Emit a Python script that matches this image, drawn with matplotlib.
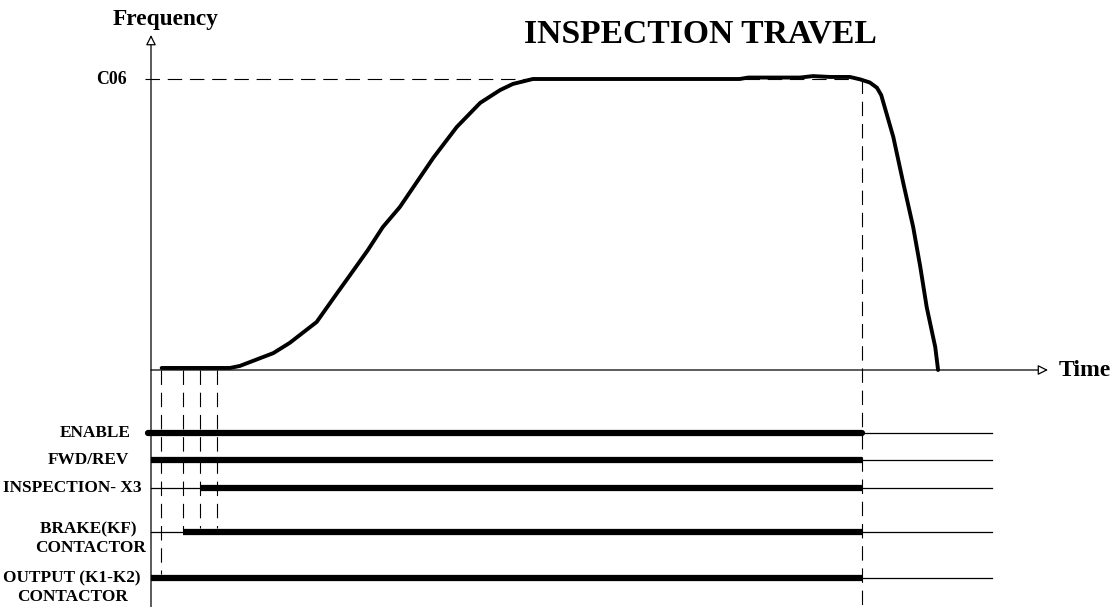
import matplotlib
matplotlib.use("Agg")
import matplotlib.pyplot as plt

# Frequency profile (time in % of stop instant, frequency in % of C06)
time_pts = [1.5, 11.1, 12.5, 17.2, 19.5, 23.3, 26.2, 27.7, 30.5, 32.6, 35.0, 39.7,
            43.0, 46.3, 49.1, 50.9, 53.7, 82.8, 84.0, 91.3, 93.1, 95.5, 98.3, 99.7,
            101.1, 102.1, 102.7, 104.4, 105.8, 107.2, 108.2, 109.1, 110.3, 110.7]
freq_pts = [0.7, 0.7, 1.4, 5.8, 9.3, 16.5, 26.5, 31.6, 41.2, 49.1, 56.0, 72.9,
            83.5, 91.8, 96.2, 98.3, 100.0, 100.0, 100.5, 100.5, 101.0, 100.7, 100.7, 99.9,
            98.8, 97.0, 94.5, 80.1, 64.3, 49.1, 35.4, 21.6, 7.9, 0.0]

# Digital signals: label, switch-on time, switch-off time
signal_labels = ["ENABLE", "FWD/REV", "INSPECTION- X3", "BRAKE(KF) \nCONTACTOR",
                 "OUTPUT (K1-K2)\nCONTACTOR"]
signal_on = [-0.4, 0.0, 6.9, 4.5, 0.0]
signal_off = [100.0, 100.0, 100.0, 100.0, 100.0]

# Dashed markers at the start of the sequence
marker_times = [1.4, 4.5, 6.9, 9.3]
stop_time = 100.0
c06_level = 100.0

W, H = 1118, 607
X0, XS = 151, 7.11      # pixel of t=0, pixels per time unit
Y0, YS = 370, 2.91      # pixel of f=0, pixels per frequency unit

fig = plt.figure(figsize=(W / 100, H / 100), dpi=100)
ax = fig.add_axes([0, 0, 1, 1])
ax.set_xlim(-X0 / XS, (W - X0) / XS)
ax.set_ylim((Y0 - H) / YS, Y0 / YS)
ax.axis("off")

def f_of(ypix):
    return (Y0 - ypix) / YS

def t_of(xpix):
    return (xpix - X0) / XS

font = dict(family="Liberation Serif", fontweight="bold", color="black")

# axes with open arrow heads
arrow = dict(arrowstyle="-|>,head_length=0.6,head_width=0.3", fc="white", ec="black",
             lw=0.9, shrinkA=0, shrinkB=0)
ax.annotate("", xy=(0, f_of(35)), xytext=(0, f_of(H)), arrowprops=arrow)
ax.annotate("", xy=(t_of(1048), 0), xytext=(0, 0), arrowprops=arrow)

# C06 reference and stop line
ax.plot([t_of(145), stop_time], [c06_level, c06_level], color="black", lw=0.8,
        dashes=(13, 7))
ax.plot([stop_time, stop_time], [c06_level, f_of(H)], color="black", lw=0.8,
        dashes=(13, 7))

# frequency curve
ax.plot(time_pts, freq_pts, color="black", lw=2.8, solid_joinstyle="round",
        solid_capstyle="round")

# signal rows
row_y = [f_of(433), f_of(460), f_of(488), f_of(532), f_of(578)]
thin_end = t_of(992)
for i, lab in enumerate(signal_labels):
    y = row_y[i]
    ax.plot([0, thin_end], [y, y], color="black", lw=0.9)
    cap = "round" if i == 0 else "butt"
    ax.plot([signal_on[i], signal_off[i]], [y, y], color="black", lw=4.5,
            solid_capstyle=cap)

# marker dashed lines down to their rows
marker_ends = [f_of(574), row_y[3], f_of(528), f_of(528)]
for t, ye in zip(marker_times, marker_ends):
    ax.plot([t, t], [0, ye], color="black", lw=0.8, dashes=(13, 7))

# texts
ax.text(t_of(166), f_of(20), "Frequency", ha="center", va="center", fontsize=16.8, **font)
ax.text(t_of(700), f_of(34), "INSPECTION TRAVEL", ha="center", va="center",
        fontsize=24.2, **font)
ax.text(t_of(127), f_of(79), "C06", ha="right", va="center", fontsize=12.8, **font)
ax.text(t_of(1059), f_of(370), "Time", ha="left", va="center", fontsize=17, **font)

label_pos = [(131, 433, "right"), (129, 460, "right"), (142, 488, "right"),
             (90, 539, "center"), (72, 588, "center")]
for lab, (x, y, ha) in zip(signal_labels, label_pos):
    ax.text(t_of(x), f_of(y), lab, ha=ha, va="center", fontsize=12.4,
            linespacing=1.2, multialignment="center", **font)

fig.savefig("out.png", dpi=100, facecolor="white")
